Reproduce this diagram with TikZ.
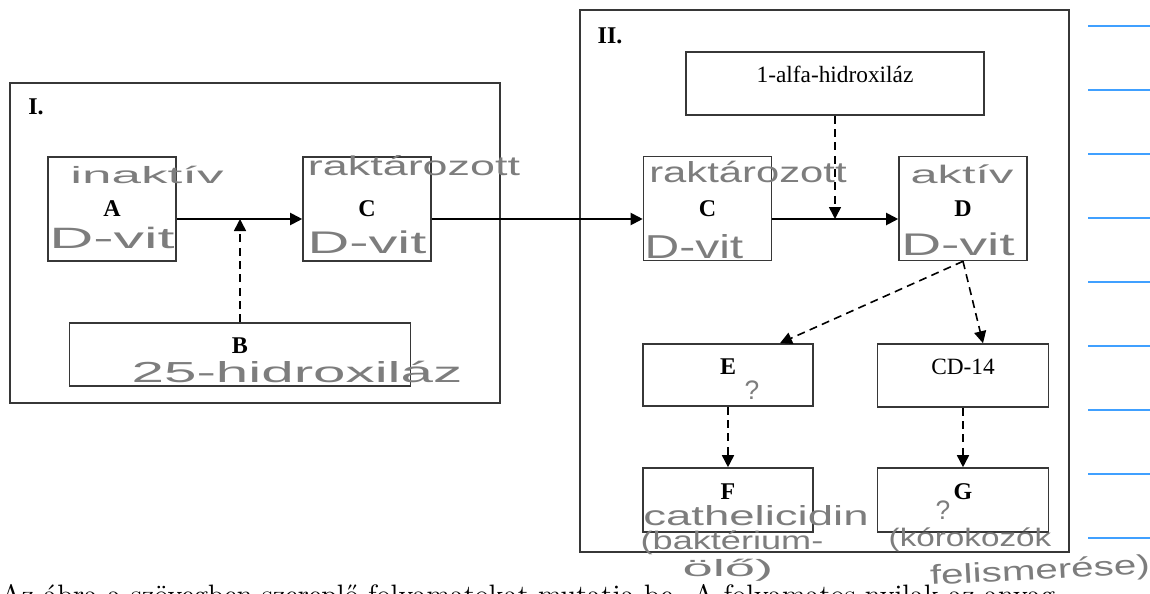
\documentclass[tikz,border=0pt]{standalone}
\usepackage{fontspec}
\usetikzlibrary{arrows.meta,calc}
\newfontfamily\printfont{Liberation Serif}
\newfontfamily\handfont{Liberation Sans}
\definecolor{boxline}{RGB}{55,55,55}
\definecolor{pencil}{RGB}{125,125,125}
\definecolor{ruler}{RGB}{64,160,255}
\newcommand{\scrawl}[3]{\resizebox{#1}{#2}{\handfont #3}}

\tikzset{every picture/.style={line width=0.75pt},
	stage/.style={draw=boxline,line width=1.2pt},
	vbox/.style={draw=boxline,line width=1.2pt,inner sep=0pt,minimum width=96pt,minimum height=78pt,font=\printfont\fontsize{18}{21}\selectfont\bfseries},
	wbox/.style={draw=boxline,line width=1.2pt,inner sep=0pt,text height=12pt,text depth=13pt,font=\printfont\fontsize{17.5}{21}\selectfont},
	bwbox/.style={wbox,font=\printfont\fontsize{18}{21}\selectfont\bfseries},
	flow/.style={line width=1.5pt,-{Triangle[length=9pt,width=9pt]}},
	dashflow/.style={flow,line width=1.2pt,dash pattern=on 6pt off 4pt},
	hand/.style={pencil,inner sep=0pt}
}

\begin{document}
\begin{tikzpicture}[x=0.75pt,y=0.75pt,yscale=-1,xscale=1]
	\useasboundingbox (0,0) rectangle (1150,593);

	%Shape: Rectangle [stage I]
	\draw [stage] (10,83) rectangle (500,403) ;
	%Shape: Rectangle [stage II]
	\draw [stage] (580,10) rectangle (1069,552) ;
	% Text Node
	\node [font=\printfont\fontsize{18}{21}\selectfont\bfseries] (stI) at (36,107) {I.};
	% Text Node
	\node [font=\printfont\fontsize{18}{21}\selectfont\bfseries] (stII) at (610,36) {II.};

	%Boxes of stage I
	\node [vbox] (A) at (112,209) {A};
	\node [vbox] (C1) at (367,209) {C};
	\node [bwbox,minimum width=255.75pt,minimum height=47.25pt] (B) at (240,354.5) {B};

	%Boxes of stage II
	\node [wbox,minimum width=223.5pt,minimum height=47.25pt] (hyd) at (835,83.5) {1-alfa-hidroxiláz};
	\node [vbox] (C2) at (707.5,208.5) {C};
	\node [vbox] (D) at (963,208.5) {D};
	\node [bwbox,minimum width=127.5pt,minimum height=46.5pt] (E) at (728,375) {E};
	\node [wbox,minimum width=128.25pt,minimum height=47.25pt] (cd) at (963,375.5) {CD-14};
	\node [bwbox,minimum width=127.5pt,minimum height=48pt] (F) at (728,500) {F};
	\node [bwbox,minimum width=128.25pt,minimum height=48pt] (G) at (963,500) {G};

	%Joints on the main line
	\coordinate (j1) at (240,219) ;
	\coordinate (j2) at (835,219) ;

	%Straight Lines
	\draw [flow] (A.east |- j1) -- (C1.west |- j1) ;
	\draw [dashflow] (B.north) -- (j1) ;
	\draw [flow] (C1.east |- j1) -- (C2.west |- j1) ;
	\draw [flow] (C2.east |- j2) -- (D.west |- j2) ;
	\draw [dashflow] (hyd.south) -- (j2) ;
	\draw [dashflow] (D.south) -- ($(E.north)+(52,0)$) ;
	\draw [dashflow] (D.south) -- ($(cd.north)+(20,0)$) ;
	\draw [dashflow] (E.south) -- (F.north) ;
	\draw [dashflow] (cd.south) -- (G.north) ;

	%Ruled lines on the right
	\foreach \k in {0,...,8}
		\draw [ruler,line width=1.1pt] (1088,{26+64*\k}) -- (1150,{26+64*\k}) ;

	% Text Node (printed below, cut off)
	\node [anchor=base west,inner sep=0pt] (caption) at (0,604) {\resizebox{791pt}{!}{Az ábra a szövegben szereplő folyamatokat mutatja be. A folyamatos nyilak az anyag}};

	%Handwriting
	\node [hand] (h1) at (147,175) {\scrawl{115pt}{13pt}{inaktív}};
	\node [hand] (h2) at (112,238) {\scrawl{94pt}{16pt}{D-vit}};
	\node [hand] (h3) at (414,166) {\scrawl{159pt}{15pt}{raktározott}};
	\node [hand] (h4) at (367,242) {\scrawl{89pt}{17pt}{D-vit}};
	\node [hand] (h5) at (297,372) {\scrawl{248pt}{16pt}{25-hidroxiláz}};
	\node [hand] (h6) at (748,172) {\scrawl{148pt}{16pt}{raktározott}};
	\node [hand] (h7) at (694,247) {\scrawl{74pt}{18pt}{D-vit}};
	\node [hand] (h8) at (962,174) {\scrawl{77pt}{14pt}{aktív}};
	\node [hand] (h9) at (958,244) {\scrawl{85pt}{17pt}{D-vit}};
	\node [hand] (h10) at (752,390) {\scrawl{11pt}{14pt}{?}};
	\node [hand] (h11) at (943,510) {\scrawl{11pt}{14pt}{?}};
	\node [hand] (h12) at (756,516) {\scrawl{169pt}{15pt}{cathelicidin}};
	\node [hand] (h13) at (732,543) {\scrawl{137pt}{14pt}{(baktérium-}};
	\node [hand] (h14) at (728,570) {\scrawl{68pt}{13pt}{ölő)}};
	\node [hand] (h15) at (970,540) {\scrawl{122pt}{14pt}{(kórokozók}};
	\node [hand,rotate=3] (h16) at (1040,572) {\scrawl{165pt}{15pt}{felismerése)}};

\end{tikzpicture}
\end{document}
